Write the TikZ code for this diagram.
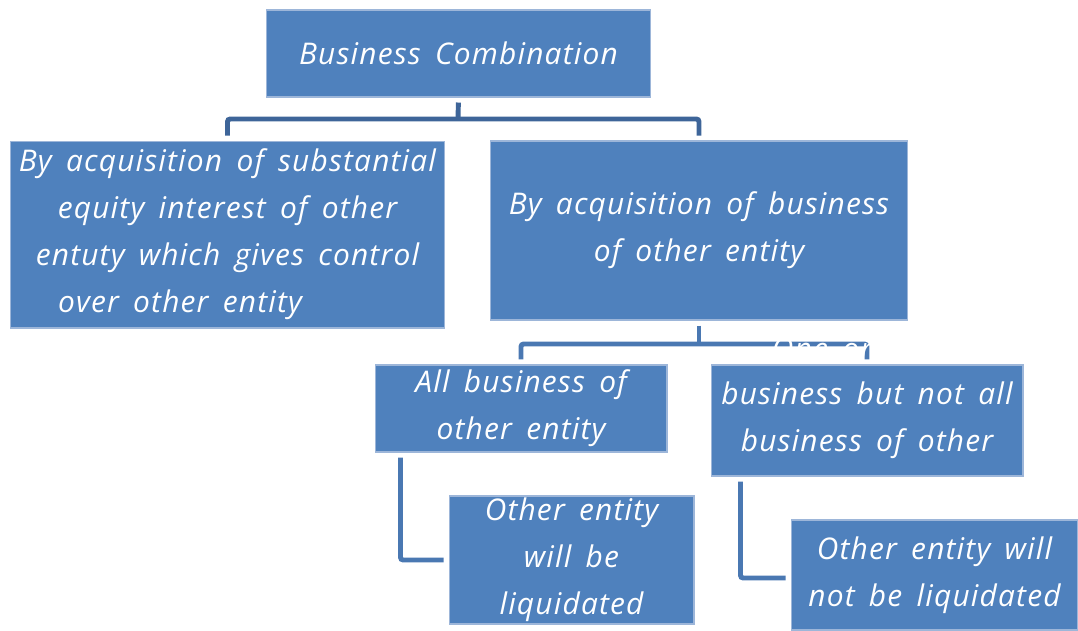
\documentclass[tikz,border=0pt]{standalone}
\usepackage{fontspec}
\usepackage{tikz}
\usetikzlibrary{calc}
\newfontfamily\handfont[LetterSpace=4,WordSpace=1.6]{Open Sans}
\definecolor{boxfill}{HTML}{4F81BD}
\definecolor{boxline}{HTML}{9DB6D9}
\definecolor{conndark}{HTML}{3E6599}
\definecolor{connmid}{HTML}{4A78B2}
\tikzset{
  box/.style={rectangle, draw=boxline, line width=0.6pt, fill=boxfill, text=white,
              align=center, inner sep=0pt, font=\handfont\itshape\fontsize{17}{26.7}\selectfont},
  conn/.style={draw=#1, line width=2.8pt, rounded corners=1.5pt,
               shorten <=0.1cm, shorten >=0.1cm},
}
\begin{document}
\begin{tikzpicture}[x=0.02cm, y=-0.02cm]
    \useasboundingbox (0,0) rectangle (1078,630);
    \node[box, minimum width=7.7cm, minimum height=1.74cm] (biz) at (458.5,53.5) {Business Combination};
    \node[box, minimum width=8.7cm, minimum height=3.74cm] (equity) at (227.5,234.5) {By acquisition of substantial\\equity interest of other\\entuty which gives control\\over other entity\hspace*{1.9cm}};
    \node[box, minimum width=8.36cm, minimum height=3.58cm] (acq) at (699,230.5) {By acquisition of business\\of other entity};
    \node[box, minimum width=5.84cm, minimum height=1.74cm] (allbiz) at (521,408.5) {All business of\\other entity};
    \node[box, minimum width=6.24cm, minimum height=2.22cm] (partbiz) at (867,420.5) {business but not all\\business of other};
    \node[box, minimum width=4.9cm, minimum height=2.56cm] (liq) at (571.5,560) {Other entity\\will be\\liquidated};
    \node[box, minimum width=5.74cm, minimum height=2.2cm] (notliq) at (934.5,575) {Other entity will\\not be liquidated};
    \coordinate (fork1) at (458,119);
    \coordinate (fork2) at (699,344);
    \draw[conn=conndark, shorten >=0pt] (biz.south) -- (fork1);
    \draw[conn=conndark] (equity.north) |- (fork1) -| (acq.north);
    \draw[conn=connmid, shorten >=0pt] (acq.south) -- (fork2);
    \draw[conn=connmid] (allbiz.north) |- (fork2) -| (partbiz.north);
    \draw[conn=connmid] ($(allbiz.south west)+(26,0)$) |- (liq.west);
    \draw[conn=connmid] ($(partbiz.south west)+(30,0)$) |- ($(notliq.west)+(0,3)$);
    \node[text=white, font=\handfont\itshape\fontsize{17}{26.7}\selectfont] (oneor) at (822,349) {One or};
  \end{tikzpicture}
\end{document}
